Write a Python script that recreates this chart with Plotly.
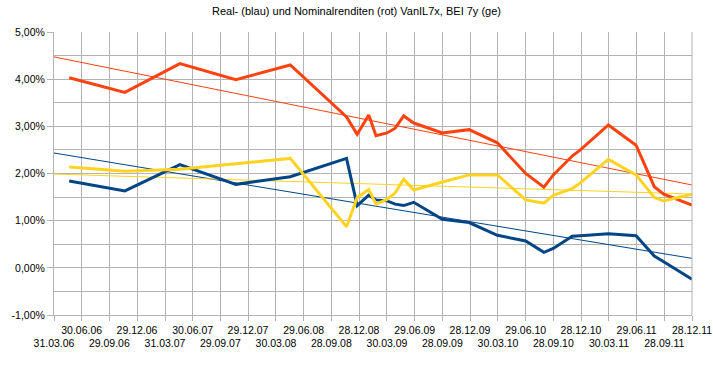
import numpy as np
import pandas as pd
import plotly.graph_objects as go

dates = ["2006-05-20", "2006-11-19", "2007-05-19", "2007-11-19", "2008-05-16",
         "2008-11-17", "2008-12-22", "2009-01-29", "2009-02-22", "2009-03-30",
         "2009-04-26", "2009-05-24", "2009-06-26", "2009-09-28", "2009-12-25",
         "2010-03-28", "2010-06-29", "2010-08-28", "2010-09-28", "2010-11-29",
         "2010-12-26", "2011-03-28", "2011-06-27", "2011-08-26", "2011-09-26",
         "2011-12-28"]
nominal = [4.03, 3.72, 4.33, 3.99, 4.30, 3.20, 2.83, 3.24, 2.80, 2.86,
           2.96, 3.22, 3.07, 2.86, 2.93, 2.65, 2.00, 1.71, 1.97, 2.37,
           2.50, 3.03, 2.60, 1.72, 1.56, 1.33]
real = [1.84, 1.63, 2.19, 1.77, 1.93, 2.32, 1.32, 1.54, 1.44, 1.42,
        1.35, 1.32, 1.39, 1.03, 0.96, 0.69, 0.57, 0.33, 0.41, 0.67,
        0.68, 0.72, 0.68, 0.25, 0.13, -0.24]
bei = [2.14, 2.05, 2.09, 2.20, 2.32, 0.87, 1.49, 1.66, 1.35, 1.45,
       1.59, 1.88, 1.65, 1.82, 1.97, 1.97, 1.44, 1.37, 1.54, 1.68,
       1.80, 2.30, 1.97, 1.49, 1.42, 1.56]

tick_dates = ["2006-03-31", "2006-06-30", "2006-09-29", "2006-12-29", "2007-03-31",
              "2007-06-30", "2007-09-29", "2007-12-29", "2008-03-30", "2008-06-29",
              "2008-09-28", "2008-12-28", "2009-03-30", "2009-06-29", "2009-09-28",
              "2009-12-28", "2010-03-30", "2010-06-29", "2010-09-28", "2010-12-28",
              "2011-03-30", "2011-06-29", "2011-09-28", "2011-12-28"]
tick_labels = ["31.03.06", "30.06.06", "29.09.06", "29.12.06", "31.03.07",
               "30.06.07", "29.09.07", "29.12.07", "30.03.08", "29.06.08",
               "28.09.08", "28.12.08", "30.03.09", "29.06.09", "28.09.09",
               "28.12.09", "30.03.10", "29.06.10", "28.09.10", "28.12.10",
               "30.03.11", "29.06.11", "28.09.11", "28.12.11"]
y_ticks = [-1, 0, 1, 2, 3, 4, 5]
y_labels = ["-1,00%", "0,00%", "1,00%", "2,00%", "3,00%", "4,00%", "5,00%"]

title = "Real- (blau) und Nominalrenditen (rot) VanIL7x, BEI 7y (ge)"

series = [
    ("Real", real, "#004586"),
    ("Nominal", nominal, "#FF420E"),
    ("BEI", bei, "#FFD320"),
]

x_dt = pd.to_datetime(dates)
x_num = (x_dt - x_dt[0]).days.values.astype(float)
x_range = [pd.Timestamp(tick_dates[0]), pd.Timestamp(tick_dates[-1])]
r_num = np.array([(t - x_dt[0]).days for t in x_range], dtype=float)

fig = go.Figure()
# linear trend lines
for name, vals, col in series:
    k, d = np.polyfit(x_num, np.array(vals), 1)
    fig.add_trace(go.Scatter(x=x_range, y=k * r_num + d, mode="lines",
                             line=dict(color=col, width=1), showlegend=False,
                             hoverinfo="skip"))
for name, vals, col in series:
    fig.add_trace(go.Scatter(x=x_dt, y=vals, mode="lines", name=name,
                             line=dict(color=col, width=3), showlegend=False))

ticktext = [("<br>" + lab) if i % 2 == 0 else lab for i, lab in enumerate(tick_labels)]

fig.update_layout(
    width=713, height=367,
    margin=dict(l=54, r=21, t=32, b=52),
    paper_bgcolor="white", plot_bgcolor="white",
    font=dict(family="Liberation Sans, Arial, sans-serif", size=10, color="#000000"),
    title=dict(text=title, x=0.5, xanchor="center", y=0.97, yanchor="middle",
               font=dict(size=11, color="#000000")),
    showlegend=False,
)
fig.update_xaxes(
    type="date", range=x_range, tickmode="array",
    tickvals=[pd.Timestamp(t) for t in tick_dates], ticktext=ticktext,
    tickangle=0, ticks="outside", ticklen=5, tickcolor="#b3b3b3",
    showgrid=True, gridcolor="#b3b3b3", gridwidth=1,
    showline=True, linecolor="#b3b3b3", mirror=False,
    tickfont=dict(size=10.5), zeroline=False, automargin=False,
)
fig.update_yaxes(
    range=[-1, 5], tickmode="array", tickvals=y_ticks, ticktext=y_labels,
    ticks="outside", ticklen=6, tickcolor="#b3b3b3",
    showgrid=True, gridcolor="#b3b3b3", gridwidth=1,
    minor=dict(dtick=0.5, showgrid=True, gridcolor="#b3b3b3", ticks=""),
    showline=True, linecolor="#b3b3b3", zeroline=False,
    tickfont=dict(size=10.5), automargin=False,
)
# right border line
fig.update_layout(shapes=[dict(type="line", xref="paper", yref="paper", x0=1, x1=1,
                               y0=0, y1=1, line=dict(color="#b3b3b3", width=1))])

fig.write_html("out.html", config={"displayModeBar": False},
               post_script="document.body.style.margin='0';")
